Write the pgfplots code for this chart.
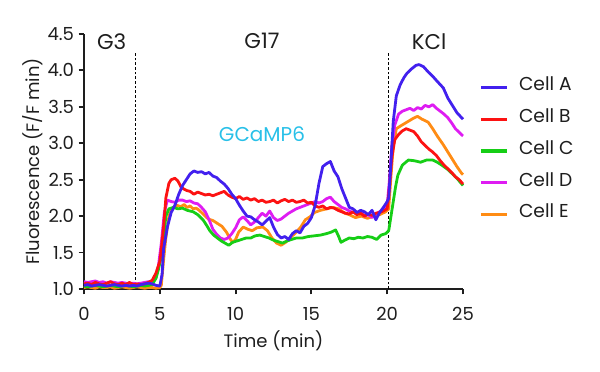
\documentclass[border=0pt]{standalone}
\usepackage{pgfplots}
\pgfplotsset{compat=1.18}
\usepackage{fontspec}
\setmainfont{Poppins}
\definecolor{cA}{RGB}{66,32,238}
\definecolor{cB}{RGB}{252,18,18}
\definecolor{cC}{RGB}{22,206,22}
\definecolor{cD}{RGB}{222,28,242}
\definecolor{cE}{RGB}{255,140,20}
\definecolor{cyanT}{RGB}{40,192,232}
\definecolor{txt}{RGB}{30,30,30}
\begin{document}
\begin{tikzpicture}
\begin{axis}[
  scale only axis, width=284.25pt, height=191.25pt,
  xmin=0, xmax=25, ymin=1, ymax=4.5,
  axis lines=left,
  axis line style={-, line width=1.4pt, txt},
  xtick={0,5,...,25}, ytick={1,1.5,...,4.5},
  tick align=outside, major tick length=4pt,
  tick style={line width=1.4pt, txt},
  /pgf/number format/assume math mode=true,
  yticklabel style={/pgf/number format/fixed, /pgf/number format/fixed zerofill, /pgf/number format/precision=1},
  xticklabel style={yshift=-6.5pt},
  ticklabel style={font=\fontsize{13.5}{15}\selectfont, text=txt},
  xlabel={Time (min)}, ylabel={Fluorescence (F/F min)},
  label style={font=\fontsize{13.5}{15}\selectfont, text=txt},
  xlabel style={at={(axis description cs:0.5,-0.204)}, anchor=center},
  ylabel style={at={(axis description cs:-0.1346,0.5)}, anchor=center, rotate=0},
  clip=false,
  legend style={at={(axis cs:26.05,2.93)}, anchor=west, draw=none, fill=none,
     font=\fontsize{14}{16}\selectfont, text=txt, row sep=8pt, inner sep=0pt,
     /tikz/every odd column/.append style={column sep=5.5pt}},
  legend cell align=left,
  legend image code/.code={\draw[#1, line width=2.4pt] (0pt,-2pt) -- (20pt,-2pt);},
  every axis plot/.append style={line width=2.1pt, line join=round},
]
\addlegendimage{cA}\addlegendentry{Cell A}
\addlegendimage{cB}\addlegendentry{Cell B}
\addlegendimage{cC}\addlegendentry{Cell C}
\addlegendimage{cD}\addlegendentry{Cell D}
\addlegendimage{cE}\addlegendentry{Cell E}

\addplot[forget plot, dashed, dash pattern=on 2pt off 1.5pt, line width=0.6pt, black] coordinates {(3.36,1) (3.36,4.24)};
\addplot[forget plot, dashed, dash pattern=on 2pt off 1.5pt, line width=0.6pt, black] coordinates {(20.1,1) (20.1,4.24)};

% Cell E (orange)
\addplot[forget plot, cE] coordinates {
(0,1.02)(0.25,1.03)(0.5,1.02)(0.75,1.01)(1,1.03)(1.25,1.02)(1.5,1.02)(1.75,1.03)(2,1.01)(2.25,1.02)(2.5,1.03)(2.75,1.02)(3,1.01)(3.25,1.02)(3.5,1.03)(3.75,1.02)(4,1.01)(4.25,1.02)(4.5,1.02)(4.75,1.01)(5,1.02)(5.1,1.05)(5.25,1.4)(5.4,1.7)(5.6,2.0)(5.8,2.1)(6.1,2.15)(6.4,2.13)(6.6,2.16)(6.8,2.12)(7.0,2.14)(7.2,2.1)(7.4,2.11)(7.6,2.08)(7.9,2.02)(8.2,1.96)(8.5,1.94)(8.8,1.9)(9.1,1.86)(9.4,1.78)(9.6,1.7)(9.8,1.64)(10.0,1.68)(10.2,1.78)(10.5,1.85)(10.8,1.82)(11.1,1.8)(11.4,1.84)(11.8,1.85)(12.1,1.8)(12.4,1.7)(12.7,1.63)(13.0,1.6)(13.3,1.64)(13.6,1.7)(14.0,1.78)(14.3,1.85)(14.6,1.95)(14.9,1.99)(15.2,2.05)(15.6,2.08)(16.0,2.1)(16.4,2.12)(16.8,2.1)(17.2,2.04)(17.5,2.02)(17.9,1.98)(18.3,2.0)(18.7,1.97)(19.1,2.0)(19.5,2.02)(19.9,2.06)(20.1,2.1)(20.25,2.55)(20.4,2.95)(20.6,3.2)(20.9,3.24)(21.3,3.29)(21.7,3.34)(22.0,3.37)(22.3,3.33)(22.7,3.29)(23.0,3.2)(23.3,3.1)(23.7,2.98)(24.0,2.88)(24.3,2.78)(24.6,2.68)(24.9,2.59)(25.0,2.57)
};
% Cell D (magenta)
\addplot[forget plot, cD] coordinates {
(0,1.1)(0.25,1.09)(0.5,1.1)(0.75,1.11)(1,1.09)(1.25,1.1)(1.5,1.08)(1.75,1.1)(2,1.09)(2.25,1.08)(2.5,1.09)(2.75,1.08)(3,1.07)(3.25,1.08)(3.5,1.07)(3.75,1.08)(4,1.09)(4.25,1.1)(4.5,1.1)(4.75,1.15)(4.9,1.3)(5.1,1.63)(5.3,2.05)(5.5,2.22)(5.75,2.2)(6.0,2.19)(6.25,2.22)(6.5,2.22)(6.75,2.2)(7.0,2.21)(7.25,2.18)(7.5,2.17)(7.75,2.12)(8.0,2.06)(8.25,1.95)(8.5,1.82)(8.75,1.75)(9.0,1.7)(9.25,1.68)(9.5,1.7)(9.75,1.76)(10.0,1.84)(10.25,1.95)(10.5,1.99)(10.75,1.94)(11.0,1.88)(11.25,1.92)(11.5,1.98)(11.75,2.04)(12.0,2.0)(12.25,2.07)(12.5,1.98)(12.75,1.94)(13.0,1.96)(13.25,2.0)(13.5,2.04)(13.75,2.07)(14.0,2.1)(14.25,2.12)(14.5,2.14)(14.75,2.16)(15.0,2.18)(15.25,2.2)(15.5,2.18)(15.75,2.2)(16.0,2.24)(16.25,2.26)(16.5,2.2)(16.75,2.16)(17.0,2.12)(17.25,2.1)(17.5,2.07)(17.75,2.05)(18.0,2.04)(18.25,2.06)(18.5,2.0)(18.75,2.02)(19.0,1.98)(19.25,2.03)(19.5,2.06)(19.75,2.08)(20.0,2.15)(20.15,2.5)(20.3,2.95)(20.5,3.25)(20.75,3.4)(21.0,3.44)(21.25,3.46)(21.5,3.48)(21.75,3.45)(22.0,3.49)(22.25,3.47)(22.5,3.52)(22.75,3.5)(23.0,3.53)(23.25,3.48)(23.5,3.44)(23.75,3.4)(24.0,3.35)(24.25,3.28)(24.5,3.2)(24.75,3.15)(25.0,3.1)
};
% Cell C (green)
\addplot[forget plot, cC] coordinates {
(0,1.04)(0.25,1.03)(0.5,1.04)(0.75,1.05)(1,1.04)(1.25,1.03)(1.5,1.04)(1.75,1.05)(2,1.04)(2.25,1.03)(2.5,1.04)(2.75,1.05)(3,1.04)(3.25,1.03)(3.5,1.04)(3.75,1.05)(4,1.04)(4.25,1.05)(4.5,1.06)(4.75,1.15)(4.9,1.26)(5.1,1.45)(5.25,1.7)(5.4,2.0)(5.6,2.1)(5.9,2.12)(6.2,2.1)(6.5,2.11)(6.8,2.08)(7.2,2.06)(7.5,2.02)(7.85,1.95)(8.1,1.87)(8.3,1.8)(8.55,1.74)(8.8,1.7)(9.05,1.66)(9.3,1.63)(9.55,1.6)(9.8,1.64)(10.1,1.66)(10.4,1.68)(10.7,1.7)(11.0,1.7)(11.3,1.73)(11.6,1.74)(11.9,1.72)(12.2,1.7)(12.5,1.67)(12.8,1.65)(13.1,1.63)(13.4,1.66)(13.7,1.68)(14.0,1.7)(14.4,1.7)(14.8,1.72)(15.2,1.73)(15.6,1.74)(16.0,1.76)(16.3,1.78)(16.6,1.81)(16.8,1.72)(16.95,1.64)(17.2,1.67)(17.5,1.7)(17.8,1.69)(18.1,1.71)(18.4,1.7)(18.7,1.72)(19.0,1.71)(19.3,1.68)(19.6,1.74)(19.9,1.76)(20.1,1.8)(20.25,2.0)(20.4,2.2)(20.55,2.4)(20.7,2.56)(21.0,2.7)(21.4,2.77)(21.8,2.76)(22.2,2.74)(22.6,2.77)(23.0,2.77)(23.3,2.74)(23.6,2.7)(24.0,2.64)(24.3,2.58)(24.6,2.52)(25.0,2.42)
};
% Cell B (red)
\addplot[forget plot, cB] coordinates {
(0,1.07)(0.25,1.08)(0.5,1.06)(0.75,1.09)(1,1.07)(1.25,1.06)(1.5,1.08)(1.75,1.1)(2,1.07)(2.25,1.06)(2.5,1.08)(2.75,1.06)(3,1.09)(3.25,1.06)(3.5,1.07)(3.75,1.06)(4,1.07)(4.25,1.09)(4.5,1.12)(4.75,1.22)(5,1.38)(5.1,1.55)(5.25,1.85)(5.4,2.25)(5.6,2.45)(5.75,2.5)(6,2.52)(6.2,2.48)(6.4,2.4)(6.6,2.37)(6.8,2.35)(7,2.34)(7.25,2.3)(7.5,2.33)(7.75,2.31)(8,2.29)(8.25,2.3)(8.5,2.28)(8.75,2.3)(9,2.32)(9.25,2.34)(9.5,2.29)(9.75,2.26)(10,2.24)(10.25,2.27)(10.5,2.23)(10.75,2.25)(11,2.22)(11.25,2.24)(11.5,2.2)(11.75,2.22)(12,2.19)(12.25,2.2)(12.5,2.22)(12.75,2.18)(13,2.21)(13.25,2.23)(13.5,2.2)(13.75,2.22)(14,2.19)(14.25,2.2)(14.5,2.22)(14.75,2.18)(15,2.19)(15.25,2.14)(15.5,2.12)(15.75,2.14)(16,2.1)(16.25,2.12)(16.5,2.11)(16.75,2.08)(17,2.06)(17.25,2.04)(17.5,2.03)(17.75,2.06)(18,2.02)(18.25,2.04)(18.5,2.0)(18.75,2.03)(19,2.01)(19.25,2.04)(19.5,2.05)(19.75,2.07)(20,2.1)(20.15,2.4)(20.3,2.8)(20.5,3.05)(20.75,3.12)(21,3.17)(21.25,3.2)(21.5,3.18)(21.75,3.16)(22,3.1)(22.25,3.02)(22.5,2.97)(22.75,2.92)(23,2.88)(23.25,2.83)(23.5,2.76)(23.75,2.7)(24,2.65)(24.25,2.6)(24.5,2.54)(24.75,2.5)(25,2.44)
};
% Cell A (blue)
\addplot[forget plot, cA] coordinates {
(0,1.05)(0.25,1.06)(0.5,1.04)(0.75,1.05)(1,1.06)(1.25,1.05)(1.5,1.04)(1.75,1.05)(2,1.06)(2.25,1.05)(2.5,1.04)(2.75,1.05)(3,1.04)(3.25,1.05)(3.5,1.04)(3.75,1.06)(4,1.07)(4.25,1.08)(4.5,1.07)(4.75,1.05)(5,1.04)(5.15,1.2)(5.25,1.55)(5.5,1.85)(5.75,2.05)(6,2.15)(6.25,2.3)(6.5,2.42)(6.75,2.5)(7,2.58)(7.25,2.62)(7.5,2.6)(7.75,2.61)(8,2.58)(8.25,2.6)(8.5,2.55)(8.75,2.53)(9,2.48)(9.25,2.44)(9.5,2.38)(9.75,2.3)(10,2.24)(10.25,2.15)(10.5,2.07)(10.75,2.0)(11,1.99)(11.25,1.95)(11.5,1.92)(11.75,1.88)(12,1.93)(12.25,1.98)(12.5,1.85)(12.75,1.75)(13,1.7)(13.25,1.72)(13.5,1.68)(13.75,1.76)(14,1.8)(14.25,1.77)(14.5,1.86)(14.75,1.9)(15,1.98)(15.25,2.15)(15.5,2.45)(15.75,2.68)(16,2.72)(16.25,2.75)(16.5,2.62)(16.75,2.54)(17,2.38)(17.25,2.25)(17.5,2.12)(17.75,2.1)(18,2.05)(18.25,2.08)(18.5,2.06)(18.75,2.02)(19,2.08)(19.25,1.95)(19.5,2.05)(19.75,2.12)(20,2.2)(20.1,2.25)(20.25,2.75)(20.4,3.3)(20.6,3.65)(20.85,3.8)(21.1,3.9)(21.3,3.96)(21.6,4.02)(21.9,4.07)(22.1,4.08)(22.4,4.05)(22.7,3.98)(23,3.92)(23.3,3.85)(23.7,3.76)(24,3.62)(24.3,3.52)(24.6,3.42)(25,3.33)
};

\node[font=\fontsize{16}{18}\selectfont, text=txt] at (axis cs:1.82,4.40) {G3};
\node[font=\fontsize{16}{18}\selectfont, text=txt] at (axis cs:11.74,4.40) {G17};
\node[font=\fontsize{16}{18}\selectfont, text=txt] at (axis cs:22.76,4.40) {KCl};
\node[font=\fontsize{15}{17}\selectfont, text=cyanT] at (axis cs:11.74,3.12) {GCaMP6};
\end{axis}
\pgfresetboundingbox
\path[use as bounding box] ([shift={(-63pt,-62.25pt)}]current axis.south west) rectangle ([shift={(102.75pt,25.5pt)}]current axis.north east);
\end{tikzpicture}
\end{document}
